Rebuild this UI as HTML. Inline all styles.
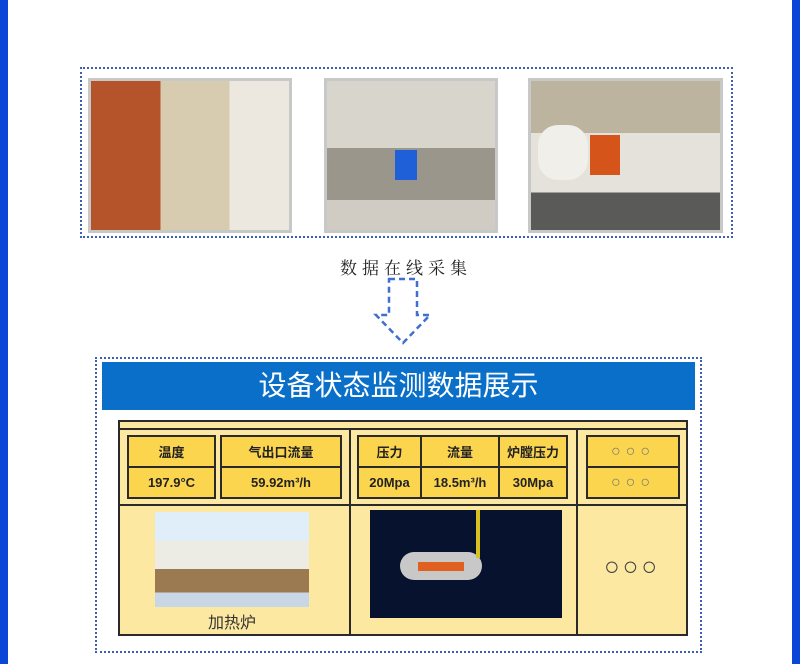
<!DOCTYPE html>
<html><head><meta charset="utf-8"><style>
*{margin:0;padding:0;box-sizing:border-box}
body{width:800px;height:664px;position:relative;background:#fff;font-family:"Liberation Sans","Noto Sans CJK SC",sans-serif;overflow:hidden}
.a{position:absolute}
.cell{position:absolute;background:#fcd54f;border:2px solid #2a2a2a;display:flex;align-items:center;justify-content:center;font-size:13px;color:#222;font-weight:bold}
.oo{font-weight:normal;color:#777;letter-spacing:5px;font-size:16px}
</style></head><body>
<div class="a" style="left:0;top:0;width:8px;height:664px;background:#0a46d8"></div>
<div class="a" style="left:792px;top:0;width:8px;height:664px;background:#0a46d8"></div>

<div class="a" style="left:80px;top:67px;width:653px;height:171px;border:2px dotted #3d5fb0"></div>
<div class="a" style="left:88px;top:78px;width:204px;height:155px;border:3px solid #c8c8c8;background:linear-gradient(90deg,#b5542a 0 35%,#d8ccb0 35% 70%,#ece8e0 70%)"></div>
<div class="a" style="left:324px;top:78px;width:174px;height:155px;border:3px solid #c8c8c8;background:linear-gradient(180deg,#d8d6cc 0 45%,#9a968c 45% 80%,#d0ccc4 80%)"></div>
<div class="a" style="left:395px;top:150px;width:22px;height:30px;background:#1f5fd8"></div>
<div class="a" style="left:528px;top:78px;width:195px;height:155px;border:3px solid #c8c8c8;background:linear-gradient(180deg,#bdb4a0 0 35%,#e4e2da 35% 75%,#5a5a58 75%)"></div>
<div class="a" style="left:538px;top:125px;width:50px;height:55px;border-radius:20px;background:#f0efea"></div>
<div class="a" style="left:590px;top:135px;width:30px;height:40px;background:#d4541a"></div>

<div class="a" style="left:340px;top:254px;width:140px;font-family:'Liberation Serif','Noto Serif CJK SC',serif;font-size:17px;letter-spacing:5px;color:#222">数据在线采集</div>

<svg class="a" style="left:370px;top:275px" width="70" height="75"><path d="M19 4H47V40H60L33 68L6 40H19Z" fill="none" stroke="#3f6fd0" stroke-width="2.5" stroke-dasharray="6,4"/></svg>

<div class="a" style="left:95px;top:357px;width:607px;height:296px;border:2px dotted #3d5fb0"></div>
<div class="a" style="left:102px;top:362px;width:593px;height:48px;background:#0a6fc8;color:#fff;font-size:28px;text-align:center;line-height:48px">设备状态监测数据展示</div>

<div class="a" style="left:118px;top:420px;width:570px;height:216px;background:#fde8a2;border:2px solid #2a2a2a"></div>
<div class="a" style="left:118px;top:428px;width:570px;height:2px;background:#2a2a2a"></div>
<div class="a" style="left:118px;top:504px;width:570px;height:2px;background:#2a2a2a"></div>
<div class="a" style="left:349px;top:428px;width:2px;height:208px;background:#2a2a2a"></div>
<div class="a" style="left:576px;top:428px;width:2px;height:208px;background:#2a2a2a"></div>

<div class="cell" style="left:127px;top:435px;width:89px;height:33px">温度</div>
<div class="cell" style="left:127px;top:466px;width:89px;height:33px">197.9°C</div>
<div class="cell" style="left:220px;top:435px;width:122px;height:33px">气出口流量</div>
<div class="cell" style="left:220px;top:466px;width:122px;height:33px">59.92m³/h</div>
<div class="cell" style="left:357px;top:435px;width:65px;height:33px">压力</div>
<div class="cell" style="left:357px;top:466px;width:65px;height:33px">20Mpa</div>
<div class="cell" style="left:420px;top:435px;width:80px;height:33px">流量</div>
<div class="cell" style="left:420px;top:466px;width:80px;height:33px">18.5m³/h</div>
<div class="cell" style="left:498px;top:435px;width:70px;height:33px">炉膛压力</div>
<div class="cell" style="left:498px;top:466px;width:70px;height:33px">30Mpa</div>
<div class="cell oo" style="left:586px;top:435px;width:94px;height:33px">○○○</div>
<div class="cell oo" style="left:586px;top:466px;width:94px;height:33px">○○○</div>

<div class="a" style="left:155px;top:512px;width:154px;height:95px;background:linear-gradient(180deg,#dfeef8 0 30%,#ecebe4 30% 60%,#9b7a52 60% 85%,#c9d6e6 85%)"></div>
<div class="a" style="left:155px;top:609px;width:154px;text-align:center;font-size:16px;color:#333">加热炉</div>
<div class="a" style="left:370px;top:510px;width:192px;height:108px;background:#07122e"></div>
<div class="a" style="left:400px;top:552px;width:82px;height:28px;border-radius:14px;background:#c8c8c8"></div>
<div class="a" style="left:418px;top:562px;width:46px;height:9px;background:#e06020"></div>
<div class="a" style="left:476px;top:510px;width:4px;height:48px;background:#d8c020"></div>
<div class="a" style="left:578px;top:551px;width:108px;text-align:center;font-size:26px;line-height:30px;color:#444;letter-spacing:3px">○○○</div>
</body></html>
